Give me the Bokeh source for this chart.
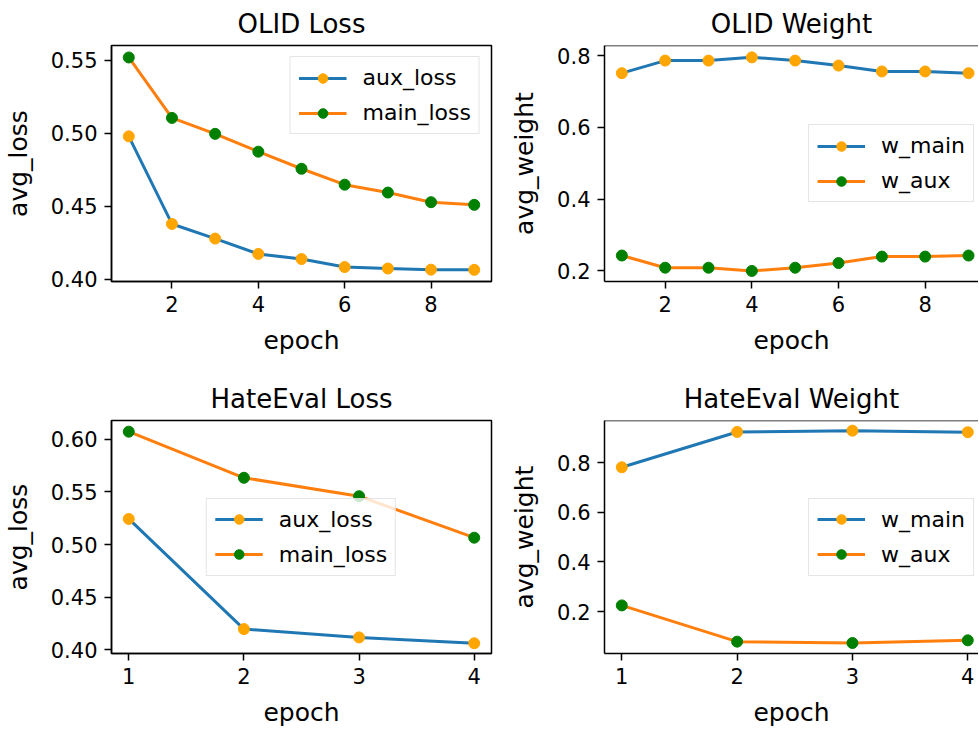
from bokeh.plotting import figure
from bokeh.layouts import column, row
from bokeh.models import Range1d, FixedTicker, PrintfTickFormatter, Span
from bokeh.embed import file_html
from bokeh.resources import INLINE

# ---------------- data ----------------
olid_epochs = [1, 2, 3, 4, 5, 6, 7, 8, 9]
olid_aux_loss = [0.498, 0.438, 0.428, 0.4175, 0.414, 0.4085, 0.4075, 0.4067, 0.4066]
olid_main_loss = [0.552, 0.5106, 0.4997, 0.4875, 0.4758, 0.4649, 0.4595, 0.4529, 0.4511]
olid_w_main = [0.7513, 0.7863, 0.7863, 0.7954, 0.7863, 0.7725, 0.756, 0.756, 0.7513]
olid_w_aux = [0.243, 0.209, 0.209, 0.2, 0.209, 0.222, 0.240, 0.240, 0.243]

hate_epochs = [1, 2, 3, 4]
hate_aux_loss = [0.5243, 0.4197, 0.4118, 0.4062]
hate_main_loss = [0.6072, 0.5634, 0.5459, 0.5065]
hate_w_main = [0.7814, 0.9236, 0.9288, 0.9225]
hate_w_aux = [0.2251, 0.0793, 0.0738, 0.0845]

olid_xticks = [2, 4, 6, 8]
hate_xticks = [1, 2, 3, 4]
olid_loss_yticks = [0.40, 0.45, 0.50, 0.55]
hate_loss_yticks = [0.40, 0.45, 0.50, 0.55, 0.60]
weight_yticks = [0.2, 0.4, 0.6, 0.8]

# ---------------- style ----------------
FONT = "DejaVu Sans"
BLUE = "#1f77b4"
ORANGE = "#ff7f0e"
M_ORANGE = "#ffa500"
M_GREEN = "#008000"


def make_fig(title, width, height, xr, yr, xticks, yticks, yfmt, ylabel,
             mb_left, mb_right, mb_top, mb_bottom, right_cut=False):
    p = figure(width=width, height=height, output_backend="svg",
               toolbar_location=None, x_range=Range1d(*xr), y_range=Range1d(*yr),
               min_border_left=mb_left, min_border_right=mb_right,
               min_border_top=mb_top, min_border_bottom=mb_bottom,
               background_fill_color="white", border_fill_color="white")
    p.title.text = title
    p.title.text_font = FONT
    p.title.text_font_size = "26px"
    p.title.text_font_style = "normal"
    p.title.align = "center"
    p.title.text_color = "black"
    p.title.standoff = 13
    p.xgrid.grid_line_color = None
    p.ygrid.grid_line_color = None
    if right_cut:
        p.outline_line_color = None
        p.add_layout(Span(location=yr[1], dimension="width",
                          line_color="black", line_width=1.5))
    else:
        p.outline_line_color = "black"
        p.outline_line_width = 1.5
    for ax in (p.xaxis[0], p.yaxis[0]):
        ax.axis_line_color = "black"
        ax.axis_line_width = 1.5
        ax.major_tick_line_color = "black"
        ax.major_tick_line_width = 1.5
        ax.major_tick_out = 7
        ax.major_tick_in = 0
        ax.minor_tick_line_color = None
        ax.major_label_text_font = FONT
        ax.major_label_text_font_size = "21px"
        ax.major_label_text_color = "black"
        ax.axis_label_text_font = FONT
        ax.axis_label_text_font_size = "25px"
        ax.axis_label_text_font_style = "normal"
        ax.axis_label_text_color = "black"
    p.xaxis[0].ticker = FixedTicker(ticks=xticks)
    p.yaxis[0].ticker = FixedTicker(ticks=yticks)
    p.yaxis[0].formatter = PrintfTickFormatter(format=yfmt)
    p.xaxis[0].axis_label = "epoch"
    p.yaxis[0].axis_label = ylabel
    p.xaxis[0].major_label_standoff = 7
    p.yaxis[0].major_label_standoff = 7
    p.xaxis[0].axis_label_standoff = 11
    p.yaxis[0].axis_label_standoff = 15
    return p


def add_series(p, x, y, line_color, marker_color, label):
    p.line(x, y, line_color=line_color, line_width=3, legend_label=label)
    p.scatter(x, y, size=11, fill_color=marker_color, line_color=marker_color,
              legend_label=label)


def style_legend(p, location, margin):
    lg = p.legend[0]
    lg.location = location
    lg.margin = margin
    lg.label_text_font = FONT
    lg.label_text_font_size = "22px"
    lg.label_text_color = "black"
    lg.glyph_width = 48
    lg.glyph_height = 24
    lg.label_standoff = 16
    lg.padding = 8
    lg.spacing = 10
    lg.border_line_color = "#cccccc"
    lg.border_line_width = 1.5
    lg.background_fill_color = "white"
    lg.background_fill_alpha = 0.8


# top-left: OLID Loss
p1 = make_fig("OLID Loss", 493, 375, (0.6, 9.4), (0.3986, 0.5602),
              olid_xticks, olid_loss_yticks, "%.2f", "avg_loss",
              110, 2, 43, 94)
add_series(p1, olid_epochs, olid_aux_loss, BLUE, M_ORANGE, "aux_loss")
add_series(p1, olid_epochs, olid_main_loss, ORANGE, M_GREEN, "main_loss")
style_legend(p1, "top_right", 11)

# top-right: OLID Weight
p2 = make_fig("OLID Weight", 485, 375, (0.6, 9.23), (0.1706, 0.8284),
              olid_xticks, weight_yticks, "%.1f", "avg_weight",
              111, 0, 43, 93, right_cut=True)
add_series(p2, olid_epochs, olid_w_main, BLUE, M_ORANGE, "w_main")
add_series(p2, olid_epochs, olid_w_aux, ORANGE, M_GREEN, "w_aux")
style_legend(p2, "center_right", 4)

# bottom-left: HateEval Loss
p3 = make_fig("HateEval Loss", 493, 356, (0.85, 4.15), (0.3965, 0.6178),
              hate_xticks, hate_loss_yticks, "%.2f", "avg_loss",
              110, 2, 42, 78)
add_series(p3, hate_epochs, hate_aux_loss, BLUE, M_ORANGE, "aux_loss")
add_series(p3, hate_epochs, hate_main_loss, ORANGE, M_GREEN, "main_loss")
style_legend(p3, "center", 0)

# bottom-right: HateEval Weight
p4 = make_fig("HateEval Weight", 485, 356, (0.85, 4.093), (0.0315, 0.9697),
              hate_xticks, weight_yticks, "%.1f", "avg_weight",
              111, 0, 42, 78, right_cut=True)
add_series(p4, hate_epochs, hate_w_main, BLUE, M_ORANGE, "w_main")
add_series(p4, hate_epochs, hate_w_aux, ORANGE, M_GREEN, "w_aux")
style_legend(p4, "center_right", 4)

layout = column(row(p1, p2), row(p3, p4))

with open("out.html", "w") as f:
    f.write(file_html(layout, INLINE))
